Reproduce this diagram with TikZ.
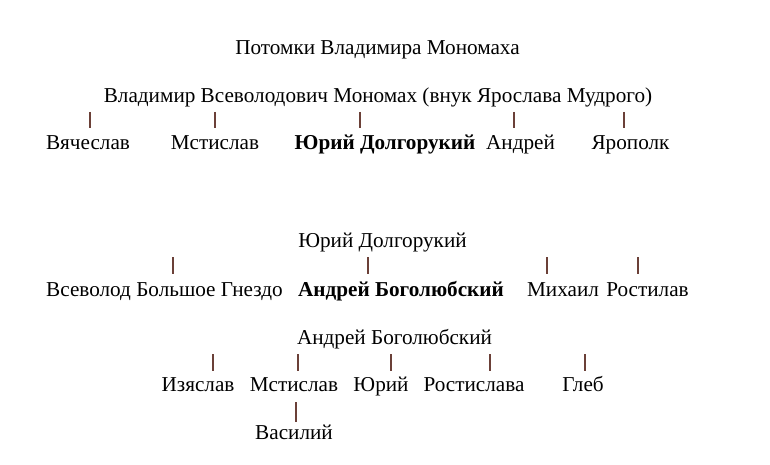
\documentclass[tikz,border=0pt]{standalone}
\usepackage{fontspec}
\setmainfont{Liberation Serif}
\definecolor{barcol}{rgb}{0.42,0.25,0.22}
\begin{document}
\begin{tikzpicture}[x=1pt,y=1pt,
  nmtext/.style={anchor=base,inner sep=0pt,font=\fontsize{21.2}{25}\selectfont},
  bnmtext/.style={nmtext,font=\fontsize{21.2}{25}\selectfont\bfseries},
  tick/.style={draw=barcol,line width=1.3pt}]
\useasboundingbox[fill=white] (0,0) rectangle (770,464);
% title
\node[nmtext] (title) at (377.5,409) {Потомки Владимира Мономаха};
% block 1
\node[nmtext] (vm) at (378,361) {Владимир Всеволодович Мономах (внук Ярослава Мудрого)};
\node[nmtext] (vyach) at (88,314) {Вячеслав};
\node[nmtext] (mst1) at (215,314) {Мстислав};
\node[bnmtext] (yd1) at (385,314) {Юрий Долгорукий};
\node[nmtext] (andr1) at (520.5,314) {Андрей};
\node[nmtext] (yarop) at (630.5,314) {Ярополк};
\foreach \n/\x in {a/90,b/215,c/360,d/514,e/624}{
  \coordinate (t1\n) at (\x,352);
  \coordinate (u1\n) at (\x,336);
  \draw[tick] (t1\n) -- (u1\n);
}
% block 2
\node[nmtext] (yd2) at (382.5,217) {Юрий Долгорукий};
\node[nmtext] (vsev) at (164.5,168) {Всеволод Большое Гнездо};
\node[bnmtext] (ab2) at (401,168) {Андрей Боголюбский};
\node[nmtext] (mikh) at (563,168) {Михаил};
\node[nmtext] (rost) at (647.5,168) {Ростилав};
\foreach \n/\x in {a/173,b/368,c/547,d/638}{
  \coordinate (t2\n) at (\x,207);
  \coordinate (u2\n) at (\x,190);
  \draw[tick] (t2\n) -- (u2\n);
}
% block 3
\node[nmtext] (ab3) at (394.5,120) {Андрей Боголюбский};
\node[nmtext] (izya) at (198,73) {Изяслав};
\node[nmtext] (mst3) at (294,73) {Мстислав};
\node[nmtext] (yur3) at (381,73) {Юрий};
\node[nmtext] (rosl) at (474,73) {Ростислава};
\node[nmtext] (gleb) at (583,73) {Глеб};
\foreach \n/\x in {a/213,b/298,c/391,d/490,e/585}{
  \coordinate (t3\n) at (\x,110);
  \coordinate (u3\n) at (\x,93);
  \draw[tick] (t3\n) -- (u3\n);
}
\coordinate (t4) at (296,62);
\coordinate (u4) at (296,42);
\draw[tick] (t4) -- (u4);
\node[nmtext] (vasil) at (294,25) {Василий};
\end{tikzpicture}
\end{document}
